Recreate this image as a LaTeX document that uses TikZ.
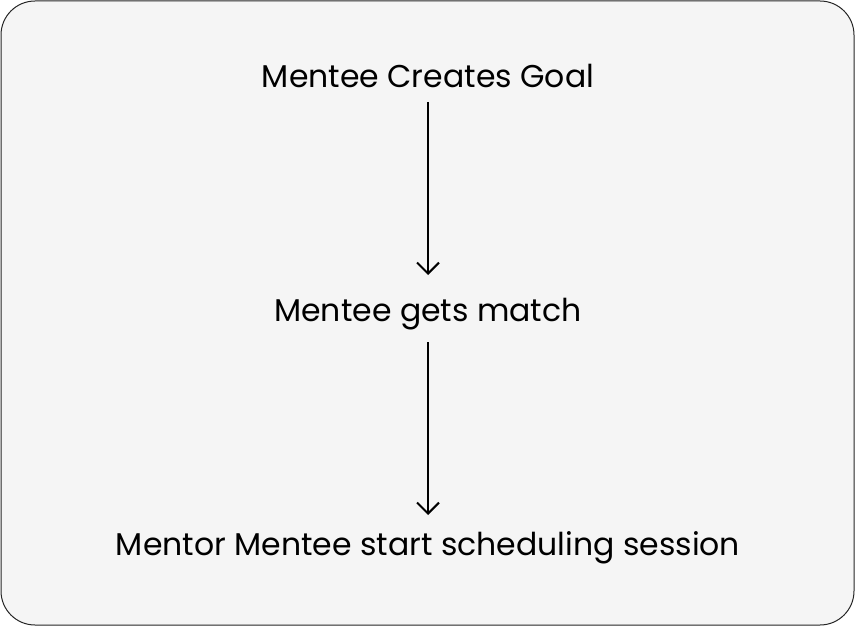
\documentclass[tikz,border=0pt]{standalone}
\usepackage{fontspec}
\setmainfont{Poppins}
\usetikzlibrary{arrows.meta}
\begin{document}
\begin{tikzpicture}[x=1pt,y=-1pt,
  lbl/.style={inner sep=0pt, anchor=base, font=\fontsize{31.5}{36}\selectfont, text=black},
  flow/.style={draw=black, line width=2pt, -{Straight Barb[length=11pt,width=22pt,line width=2pt]}}]
\useasboundingbox (0,0) rectangle (855,626);
\draw[fill=black!4, draw=black!85, line width=1pt, rounded corners=34pt] (1,1) rectangle (854,625);
\node[lbl] (goal) at (428,88) {Mentee Creates Goal};
\node[lbl] (match) at (428,321) {Mentee gets match};
\node[lbl] (sched) at (428,555) {Mentor Mentee start scheduling session};
\draw[flow] ([yshift=-14pt]goal.base) -- ([yshift=46pt]match.base);
\draw[flow] ([yshift=-21pt]match.base) -- ([yshift=40pt]sched.base);
\end{tikzpicture}
\end{document}
